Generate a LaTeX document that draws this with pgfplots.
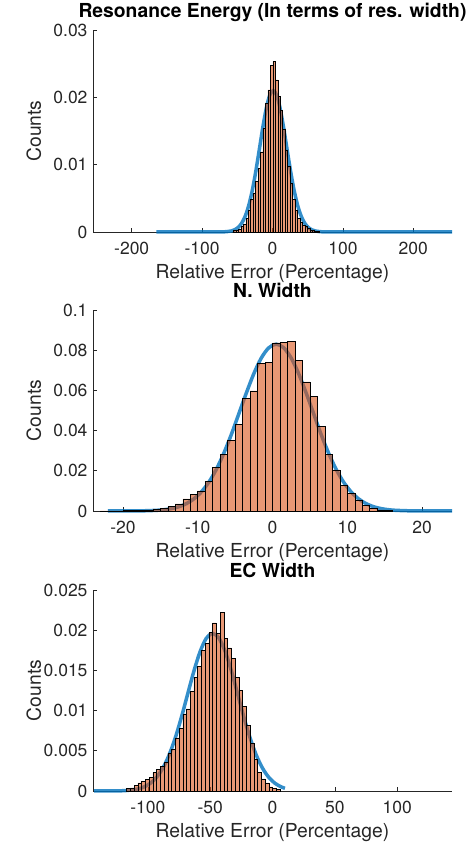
\documentclass[border=0pt]{standalone}
\usepackage{fontspec}
\setmainfont{TeX Gyre Heros}
\usepackage{pgfplots}
\pgfplotsset{compat=1.18}
\definecolor{mblue}{RGB}{0,114,189}
\definecolor{morange}{RGB}{217,83,25}
\definecolor{axgray}{RGB}{38,38,38}
\pgfplotsset{
 mstyle/.style={
  scale only axis, width=359pt,
  axis x line*=bottom, axis y line*=left,
  axis line style={-, draw=axgray, line width=0.6pt},
  tick align=inside, major tick length=4pt,
  tick style={axgray, line width=0.6pt},
  scaled x ticks=false, scaled y ticks=false,
  ymin=0, clip=false,
  tick label style={font=\fontsize{17.5}{17.5}\selectfont, text=axgray},
  xticklabel style={yshift=-7pt},
  yticklabel style={xshift=-2pt},
  xlabel style={font=\fontsize{19.3}{19.3}\selectfont, text=axgray, inner sep=0pt, at={(axis description cs:0.5,-0.229)}, anchor=base},
  ylabel style={font=\fontsize{19.3}{19.3}\selectfont, text=axgray, inner sep=0pt, at={(axis description cs:-0.145,0.5)}, anchor=base},
  title style={font=\bfseries\fontsize{19.3}{19.3}\selectfont, inner sep=0pt, at={(axis description cs:0.5,1)}, anchor=base, yshift=6.5pt},
  xlabel={Relative Error (Percentage)}, ylabel={Counts},
 },
 fitcurve/.style={mblue, line width=3.5pt, opacity=0.8, no markers, smooth},
 histo/.style={ybar interval, fill=morange, fill opacity=0.6, draw=black, line width=0.5pt},
}
\begin{document}
\begin{tikzpicture}
\path[use as bounding box] (0,0) rectangle (472pt,848pt);
% ---------- Plot 1 ----------
\begin{axis}[mstyle, height=202pt, at={(93pt,616pt)}, anchor=south west,
  xmin=-255, xmax=255, ymax=0.03,
  xtick={-200,-100,0,100,200}, xticklabels={-200,-100,0,100,200},
  ytick={0,0.01,0.02,0.03}, yticklabels={0,0.01,0.02,0.03},
  title={Resonance Energy (In terms of res. width)}]
\addplot[fitcurve] coordinates {
(-165,0) (-99,0) (-79,0.000003) (-69,0.00002) (-59,0.00014) (-54,0.00032) (-49,0.00066)
(-44,0.00127) (-39,0.00229) (-34,0.00385) (-29,0.00604) (-24,0.00884) (-19,0.01207)
(-14,0.01538) (-9,0.01828) (-4,0.02029) (1,0.0210) (6,0.02029) (11,0.01828) (16,0.01538)
(21,0.01207) (26,0.00884) (31,0.00604) (36,0.00385) (41,0.00229) (46,0.00127)
(51,0.00066) (56,0.00032) (61,0.00014) (71,0.00002) (81,0.000003) (101,0) (255,0)};
\addplot[histo] table {
x y
-55.5 0.0002
-52 0.0003
-48.5 0.0004
-45 0.0008
-41.5 0.0011
-38 0.0020
-34.5 0.0033
-31 0.0048
-27.5 0.0058
-24 0.0075
-20.5 0.0095
-17 0.0119
-13.5 0.0154
-10 0.0191
-6.5 0.0211
-3 0.0248
0.5 0.0253
4 0.0226
7.5 0.0201
11 0.0181
14.5 0.0152
18 0.0122
21.5 0.0097
25 0.0072
28.5 0.0048
32 0.0033
35.5 0.0020
39 0.0015
42.5 0.0010
46 0.0008
49.5 0.0005
53 0.0003
56.5 0.0002
60 0.0001
63.5 0.0001
67 0
};
\end{axis}
% ---------- Plot 2 ----------
\begin{axis}[mstyle, height=201pt, at={(93pt,337pt)}, anchor=south west,
  xmin=-24, xmax=24, ymax=0.1,
  xtick={-20,-10,0,10,20}, xticklabels={-20,-10,0,10,20},
  ytick={0,0.02,0.04,0.06,0.08,0.1}, yticklabels={0,0.02,0.04,0.06,0.08,0.1},
  title={N. Width}]
\addplot[fitcurve] coordinates {
(-22,0) (-19.5,0.00001) (-17.5,0.000075) (-15.5,0.00033) (-14.5,0.00064) (-13.5,0.0012)
(-12.5,0.00215) (-11.5,0.00369) (-10.5,0.00607) (-9.5,0.00956) (-8.5,0.0144) (-7.5,0.0208)
(-6.5,0.0288) (-5.5,0.0381) (-4.5,0.0484) (-3.5,0.0587) (-2.5,0.0683) (-1.5,0.0761)
(-0.5,0.0812) (0.5,0.0830) (1.5,0.0812) (2.5,0.0761) (3.5,0.0683) (4.5,0.0587)
(5.5,0.0484) (6.5,0.0381) (7.5,0.0288) (8.5,0.0208) (9.5,0.0144) (10.5,0.00956)
(11.5,0.00607) (12.5,0.00369) (13.5,0.00215) (14.5,0.0012) (15.5,0.00064) (16.5,0.00033)
(18.5,0.000075) (20.5,0.00001) (24,0)};
\addplot[histo] table {
x y
-23 0.0001
-22 0.0001
-21 0.0001
-20 0.0002
-19 0.0002
-18 0.0003
-17 0.0005
-16 0.0008
-15 0.0013
-14 0.0022
-13 0.0035
-12 0.0060
-11 0.0083
-10 0.0100
-9 0.0146
-8 0.0216
-7 0.0282
-6 0.0353
-5 0.0431
-4 0.0560
-3 0.0597
-2 0.0735
-1 0.0738
0 0.0837
1 0.0839
2 0.0844
3 0.0750
4 0.0643
5 0.0569
6 0.0420
7 0.0282
8 0.0204
9 0.0129
10 0.0088
11 0.0055
12 0.0027
13 0.0013
14 0.0005
15 0.0002
16 0
};
\end{axis}
% ---------- Plot 3 ----------
\begin{axis}[mstyle, height=201pt, at={(93pt,57pt)}, anchor=south west,
  xmin=-144, xmax=144, ymax=0.025,
  xtick={-100,-50,0,50,100}, xticklabels={-100,-50,0,50,100},
  ytick={0,0.005,0.01,0.015,0.02,0.025}, yticklabels={0,0.005,0.01,0.015,0.02,0.025},
  title={EC Width}]
\addplot[fitcurve] coordinates {
(-143,0) (-128,0.0000086) (-118,0.000053) (-108,0.00025) (-103,0.00051) (-98,0.00096)
(-93,0.0017) (-88,0.00284) (-83,0.00446) (-78,0.00661) (-73,0.00921) (-68,0.01209)
(-63,0.01494) (-58,0.01737) (-53,0.01902) (-48,0.0196) (-43,0.01902) (-38,0.01737)
(-33,0.01494) (-28,0.01209) (-23,0.00921) (-18,0.00661) (-13,0.00446) (-8,0.00284)
(-3,0.0017) (2,0.00096) (7,0.00051) (10,0.00034)};
\addplot[histo] table {
x y
-117 0.0003
-114 0.0004
-111 0.0007
-108 0.0010
-105 0.0012
-102 0.0014
-99 0.0017
-96 0.0023
-93 0.0027
-90 0.0031
-87 0.0036
-84 0.0047
-81 0.0052
-78 0.0066
-75 0.0078
-72 0.0096
-69 0.0102
-66 0.0124
-63 0.0141
-60 0.0155
-57 0.0175
-54 0.0184
-51 0.0197
-48 0.0209
-45 0.0196
-42 0.0222
-39 0.0190
-36 0.0178
-33 0.0165
-30 0.0141
-27 0.0125
-24 0.0105
-21 0.0082
-18 0.0059
-15 0.0039
-12 0.0023
-9 0.0015
-6 0.0010
-3 0.0005
0 0.0003
3 0.0002
6 0
};
\end{axis}
\end{tikzpicture}
\end{document}
